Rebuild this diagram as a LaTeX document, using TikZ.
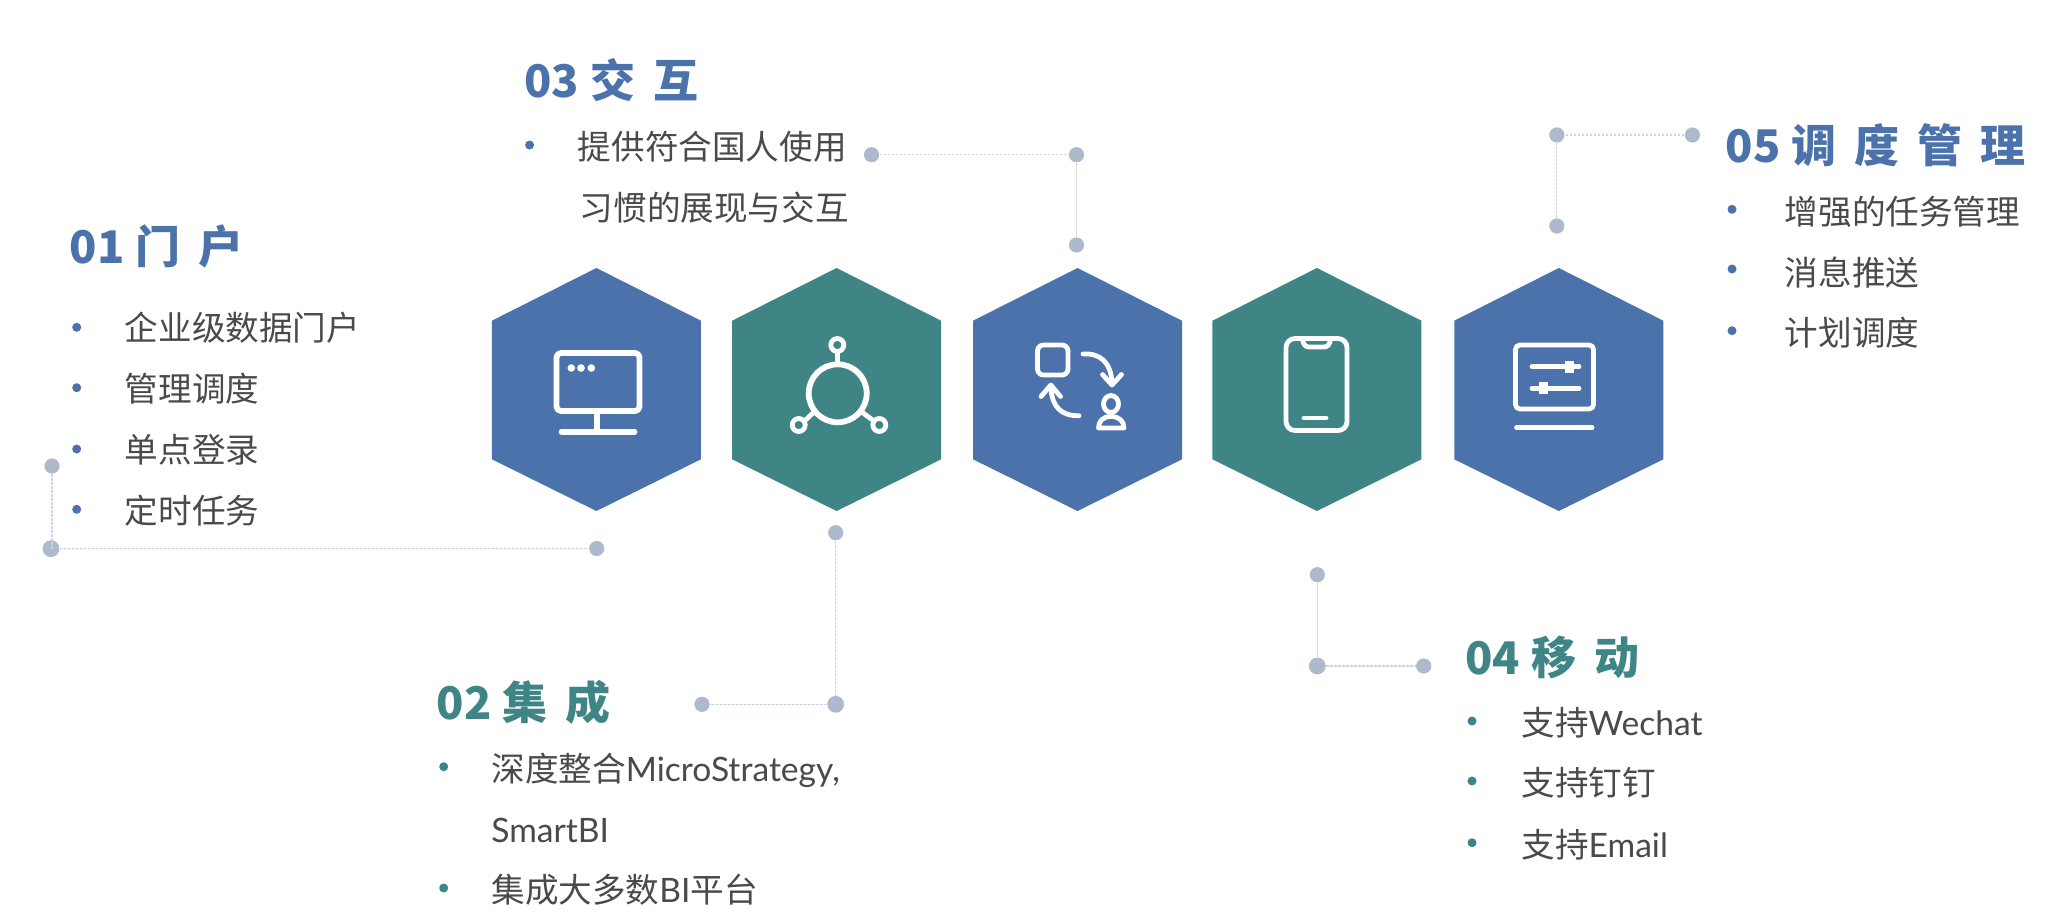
\documentclass[tikz,border=0pt]{standalone}
\usepackage{fontspec}
\newfontfamily\cjk{Noto Sans CJK SC}
\newfontfamily\lat{Lato}
\definecolor{blueA}{HTML}{4C72AB}
\definecolor{tealA}{HTML}{3F8586}
\definecolor{dotA}{HTML}{AFB9CC}
\definecolor{lineA}{HTML}{CDD3E1}
\definecolor{bodyA}{HTML}{4A4A4A}
\newcommand{\tg}{\hspace{9pt}}
\newcommand{\tgd}{\hspace{5.5pt}}
\tikzset{
  x=0.5pt,y=-0.5pt,
  titletext/.style={anchor=base west,inner sep=0pt,font=\cjk\bfseries\fontsize{22.5}{22.5}\selectfont},
  bodytext/.style={anchor=base west,inner sep=0pt,text=bodyA,font=\cjk\fontsize{16.8}{16.8}\selectfont},
  bullet/.style={circle,inner sep=0pt,minimum size=4.5pt},
  pin/.style={circle,fill=dotA,inner sep=0pt,minimum size=7.6pt},
  pinbig/.style={circle,fill=dotA,inner sep=0pt,minimum size=8.4pt},
  link/.style={draw=lineA,line width=0.55pt,dash pattern=on 1.4pt off 0.6pt},
  icon/.style={draw=white,line width=2.9pt,line cap=round,line join=round},
  iconthin/.style={draw=white,line width=2.4pt,line cap=round,line join=round},
}
\newcommand{\hexagon}[2]{\fill[#2] (#1,268) -- ++(104.5,52.7) -- ++(0,138.6) -- (#1,511) -- ++(-104.5,-51.7) -- ++(0,-138.6) -- cycle;}
\begin{document}
\begin{tikzpicture}
\useasboundingbox (0,0) rectangle (2064,916);
\fill[white] (0,0) rectangle (2064,916);
% hexagons
\hexagon{596.4}{blueA}
\hexagon{836.6}{tealA}
\hexagon{1077.5}{blueA}
\hexagon{1316.9}{tealA}
\hexagon{1558.8}{blueA}
% icon 1: monitor
\draw[icon,rounded corners=2.2pt] (556.5,353) rectangle (639.5,411);
\fill[white] (571.3,368) circle (3.8) (581,368) circle (3.8) (591.3,368) circle (3.8);
\draw[icon] (597.3,414) -- (597.3,431.7);
\draw[icon] (561.5,431.7) -- (634.5,431.7);
% icon 2: hub
\draw[icon] (837.7,393.3) circle (29);
\draw[iconthin] (837.3,345) circle (6.5) (798.7,425) circle (6.5) (879.3,425) circle (6.5);
\draw[iconthin] (837.5,352) -- (837.6,364);
\draw[iconthin] (804.5,421) -- (814.5,411.5);
\draw[iconthin] (874,421) -- (861,411.5);
% icon 3: exchange
\draw[iconthin,rounded corners=3pt] (1037.5,345) rectangle (1068,375);
\draw[iconthin] (1083,354) .. controls (1100,353) and (1111,362) .. (1112,383);
\draw[iconthin] (1102.5,374.5) -- (1112,385) -- (1121.5,374.5);
\draw[iconthin] (1079,415.7) .. controls (1062,416) and (1052,408) .. (1050.8,387);
\draw[iconthin] (1041,396.5) -- (1050.8,385) -- (1060.5,396.5);
\draw[iconthin] (1111,404) ellipse (7.5 and 8.5);
\draw[iconthin] (1098.5,428) -- (1124,428) .. controls (1124,421) and (1119,416.5) .. (1111,416.5) .. controls (1103,416.5) and (1098.5,421) .. (1098.5,428) -- cycle;
% icon 4: phone
\draw[iconthin,rounded corners=4.5pt] (1286,338.5) -- (1347,338.5) -- (1347,430.5) -- (1286,430.5) -- cycle;
\draw[iconthin] (1302.5,339.5) .. controls (1303.5,345) and (1305.5,347) .. (1309.5,347) -- (1323.5,347) .. controls (1327.5,347) and (1329.5,345) .. (1330.5,339.5);
\draw[iconthin] (1304,418) -- (1326,418);
% icon 5: panel
\draw[iconthin,rounded corners=2.2pt] (1515.5,345) rectangle (1593.5,409);
\draw[iconthin] (1532,366.7) -- (1579,366.7);
\fill[white] (1565,360.7) rectangle (1574,372.7);
\draw[iconthin] (1532,388.3) -- (1579,388.3);
\fill[white] (1539,382.3) rectangle (1548,394.3);
\draw[iconthin] (1516.5,427.7) -- (1592,427.7);
% connector pins
\node[pin] (a1) at (52,466) {};
\node[pinbig] (a2) at (51,548.7) {};
\node[pin] (a3) at (596.7,548.5) {};
\draw[link] (a1) -- (a1|-a2);
\draw[link] (a2) -- (a3);
\node[pin] (b1) at (835.7,532.7) {};
\node[pinbig] (b2) at (835.7,704.3) {};
\node[pin] (b3) at (702,704.3) {};
\draw[link] (b1) -- (b2);
\draw[link] (b2) -- (b3);
\node[pin] (c1) at (871.5,154.7) {};
\node[pin] (c2) at (1076.5,154.7) {};
\node[pin] (c3) at (1076.5,245) {};
\draw[link] (c1) -- (c2);
\draw[link] (c2) -- (c3);
\node[pin] (d1) at (1317.3,574.7) {};
\node[pinbig] (d2) at (1317.3,666) {};
\node[pin] (d3) at (1423.7,666) {};
\draw[link] (d1) -- (d2);
\draw[link] (d2) -- (d3);
\node[pin] (e1) at (1692.4,135) {};
\node[pin] (e2) at (1556.8,135) {};
\node[pin] (e3) at (1556.8,226) {};
\draw[link] (e1) -- (e2);
\draw[link] (e2) -- (e3);
% section 01
\node[titletext,text=blueA] (t1) at (69.5,263) {01\tgd 门\tg 户};
\node[bullet,fill=blueA] (p11) at (76.7,327.3) {};
\node[bullet,fill=blueA] (p12) at (76.7,387.7) {};
\node[bullet,fill=blueA] (p13) at (76.7,449) {};
\node[bullet,fill=blueA] (p14) at (76.7,509.3) {};
\node[bodytext] (x11) at (124.5,340.5) {企业级数据门户};
\node[bodytext] (x12) at (124.5,401.5) {管理调度};
\node[bodytext] (x13) at (124.5,462.5) {单点登录};
\node[bodytext] (x14) at (124.5,523) {定时任务};
% section 02
\node[titletext,text=tealA] (t2) at (436.5,719) {02\tgd 集\tg 成};
\node[bullet,fill=tealA] (p21) at (443.7,766.7) {};
\node[bullet,fill=tealA] (p22) at (443.7,888) {};
\node[bodytext] (x21) at (491,781) {深度整合{\lat MicroStrategy,}};
\node[bodytext] (x22) at (491,842) {{\lat SmartBI}};
\node[bodytext] (x23) at (491,902) {集成大多数{\lat BI}平台};
% section 03
\node[titletext,text=blueA] (t3) at (524,97) {03\tgd 交\tg 互};
\node[bullet,fill=blueA] (p31) at (529.6,145) {};
\node[bodytext] (x31) at (577.5,159.5) {提供符合国人使用};
\node[bodytext] (x32) at (579.5,220.5) {习惯的展现与交互};
% section 04
\node[titletext,text=tealA] (t4) at (1465,674) {04\tgd 移\tg 动};
\node[bullet,fill=tealA] (p41) at (1472,721) {};
\node[bullet,fill=tealA] (p42) at (1472,781) {};
\node[bullet,fill=tealA] (p43) at (1472,842.7) {};
\node[bodytext] (x41) at (1521,735) {支持{\lat Wechat}};
\node[bodytext] (x42) at (1521,795.5) {支持钉钉};
\node[bodytext] (x43) at (1521,857) {支持{\lat Email}};
% section 05
\node[titletext,text=blueA] (t5) at (1725.5,162) {05\tgd 调\tg 度\tg 管\tg 理};
\node[bullet,fill=blueA] (p51) at (1732,209.3) {};
\node[bullet,fill=blueA] (p52) at (1732,269) {};
\node[bullet,fill=blueA] (p53) at (1732,330.7) {};
\node[bodytext] (x51) at (1784.5,224) {增强的任务管理};
\node[bodytext] (x52) at (1784.5,285) {消息推送};
\node[bodytext] (x53) at (1784.5,345.5) {计划调度};
\end{tikzpicture}
\end{document}
